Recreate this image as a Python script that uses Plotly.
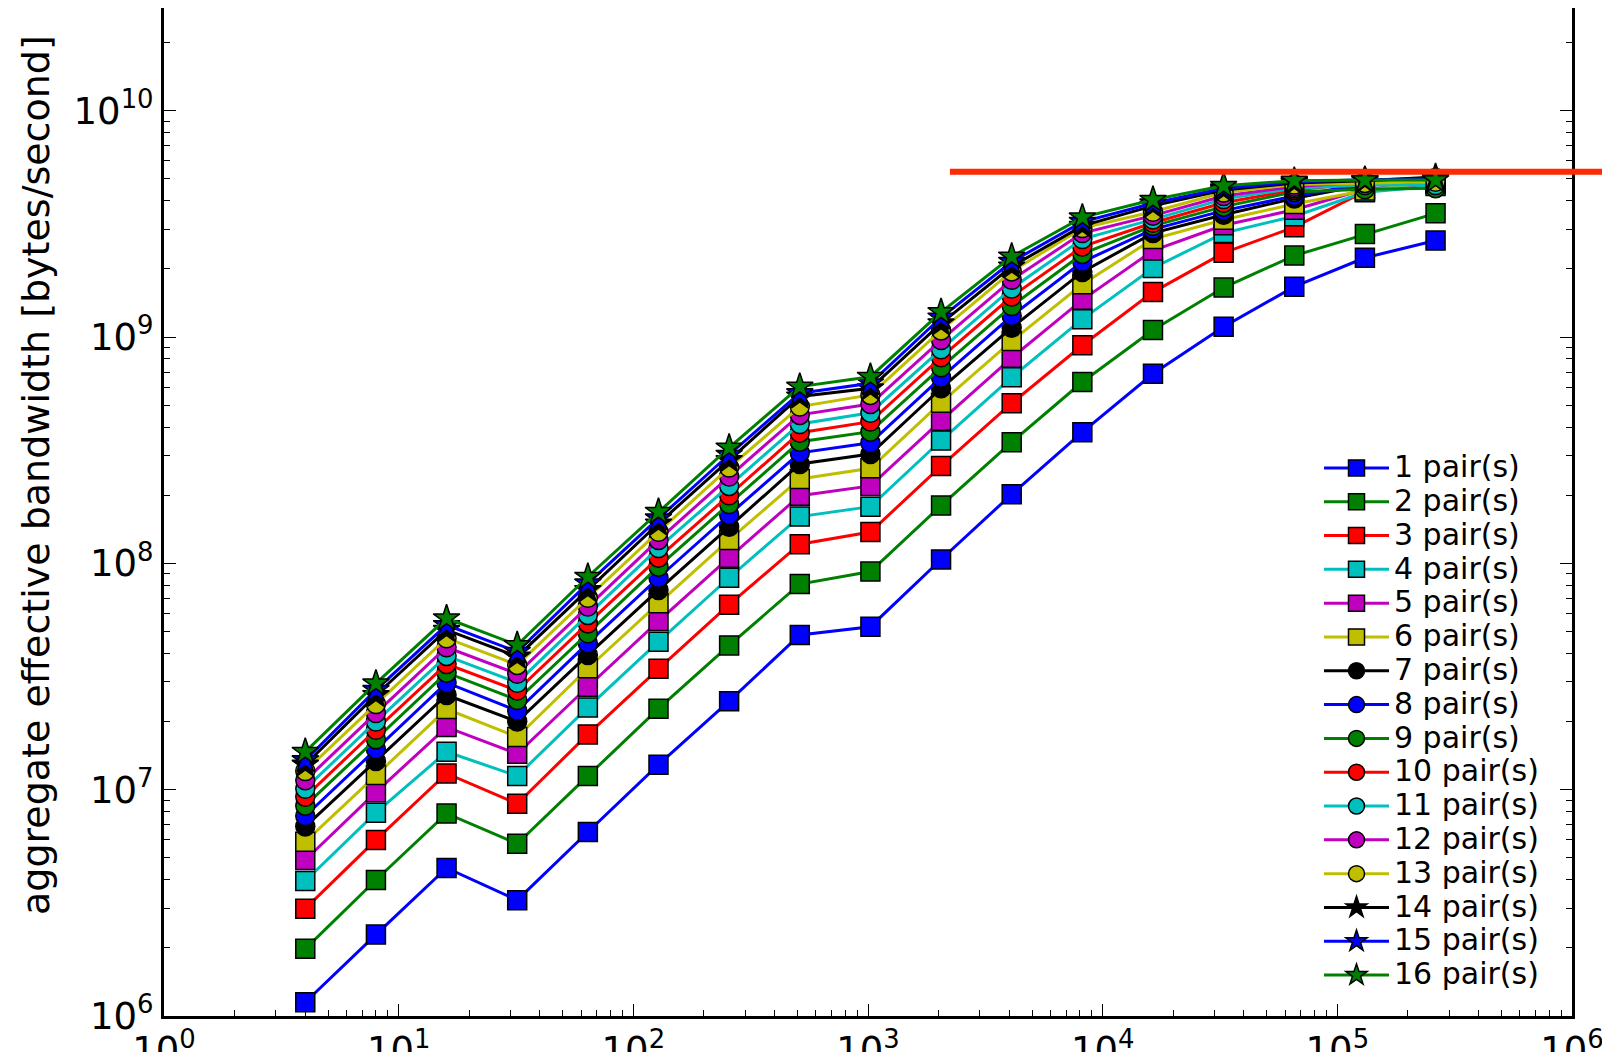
import plotly.graph_objects as go
import math

# ---- data ----
message_size = [4, 8, 16, 32, 64, 128, 256, 512, 1024, 2048, 4096, 8192,
                16384, 32768, 65536, 131072, 262144]

pairs_1 = [1.15e6, 2.29e6, 4.51e6, 3.25e6, 6.50e6, 1.29e7, 2.46e7, 4.83e7, 5.25e7, 1.04e8, 2.02e8, 3.80e8, 6.88e8, 1.11e9, 1.67e9, 2.24e9, 2.67e9]
pairs_2 = [1.98e6, 3.99e6, 7.85e6, 5.77e6, 1.15e7, 2.28e7, 4.34e7, 8.10e7, 9.20e7, 1.80e8, 3.43e8, 6.33e8, 1.075e9, 1.655e9, 2.29e9, 2.85e9, 3.52e9]
pairs_3 = [2.98e6, 6.00e6, 1.18e7, 8.67e6, 1.755e7, 3.42e7, 6.57e7, 1.215e8, 1.375e8, 2.69e8, 5.10e8, 9.20e8, 1.58e9, 2.355e9, 3.06e9, 4.40e9, 4.75e9]
pairs_4 = [3.95e6, 7.91e6, 1.47e7, 1.15e7, 2.31e7, 4.51e7, 8.64e7, 1.61e8, 1.78e8, 3.49e8, 6.64e8, 1.20e9, 2.02e9, 2.88e9, 3.42e9, 4.36e9, 4.65e9]
pairs_5 = [4.89e6, 9.75e6, 1.89e7, 1.44e7, 2.85e7, 5.56e7, 1.06e8, 1.99e8, 2.20e8, 4.27e8, 8.10e8, 1.46e9, 2.41e9, 3.12e9, 3.65e9, 4.50e9, 4.80e9]
pairs_6 = [5.89e6, 1.16e7, 2.27e7, 1.71e7, 3.44e7, 6.66e7, 1.27e8, 2.36e8, 2.63e8, 5.13e8, 9.60e8, 1.71e9, 2.71e9, 3.30e9, 3.87e9, 4.44e9, 4.85e9]
pairs_7 = [6.87e6, 1.34e7, 2.62e7, 2.00e7, 3.94e7, 7.63e7, 1.45e8, 2.75e8, 3.04e8, 5.94e8, 1.10e9, 1.94e9, 2.88e9, 3.47e9, 4.10e9, 4.70e9, 4.90e9]
pairs_8 = [7.65e6, 1.51e7, 2.97e7, 2.23e7, 4.44e7, 8.64e7, 1.64e8, 3.08e8, 3.41e8, 6.62e8, 1.24e9, 2.15e9, 2.99e9, 3.62e9, 4.20e9, 4.75e9, 5.00e9]
pairs_9 = [8.50e6, 1.67e7, 3.29e7, 2.49e7, 4.91e7, 9.67e7, 1.83e8, 3.45e8, 3.82e8, 7.35e8, 1.37e9, 2.33e9, 3.10e9, 3.77e9, 4.38e9, 4.50e9, 4.55e9]
pairs_10 = [9.30e6, 1.84e7, 3.59e7, 2.74e7, 5.43e7, 1.06e8, 2.00e8, 3.78e8, 4.23e8, 8.14e8, 1.51e9, 2.51e9, 3.20e9, 3.92e9, 4.47e9, 4.80e9, 4.95e9]
pairs_11 = [1.01e7, 2.00e7, 3.90e7, 2.97e7, 5.92e7, 1.17e8, 2.20e8, 4.13e8, 4.63e8, 8.83e8, 1.64e9, 2.71e9, 3.31e9, 4.07e9, 4.55e9, 4.70e9, 4.70e9]
pairs_12 = [1.10e7, 2.18e7, 4.26e7, 3.25e7, 6.44e7, 1.27e8, 2.42e8, 4.53e8, 5.06e8, 9.70e8, 1.79e9, 2.88e9, 3.44e9, 4.20e9, 4.62e9, 4.85e9, 5.05e9]
pairs_13 = [1.21e7, 2.39e7, 4.67e7, 3.56e7, 7.05e7, 1.38e8, 2.65e8, 4.93e8, 5.55e8, 1.07e9, 1.95e9, 3.03e9, 3.58e9, 4.35e9, 4.72e9, 4.80e9, 4.85e9]
pairs_14 = [1.29e7, 2.62e7, 5.08e7, 3.87e7, 7.63e7, 1.50e8, 2.86e8, 5.46e8, 5.94e8, 1.15e9, 2.05e9, 3.10e9, 3.80e9, 4.46e9, 4.80e9, 4.90e9, 5.10e9]
pairs_15 = [1.35e7, 2.76e7, 5.34e7, 4.07e7, 8.16e7, 1.58e8, 3.02e8, 5.65e8, 6.25e8, 1.22e9, 2.15e9, 3.23e9, 3.90e9, 4.54e9, 4.85e9, 4.95e9, 5.00e9]
pairs_16 = [1.47e7, 2.95e7, 5.72e7, 4.36e7, 8.73e7, 1.69e8, 3.25e8, 6.04e8, 6.68e8, 1.29e9, 2.27e9, 3.38e9, 4.04e9, 4.66e9, 4.91e9, 4.94e9, 4.94e9]

series_values = [pairs_1, pairs_2, pairs_3, pairs_4, pairs_5, pairs_6, pairs_7, pairs_8,
                 pairs_9, pairs_10, pairs_11, pairs_12, pairs_13, pairs_14, pairs_15, pairs_16]
series_names = [f"{i} pair(s)" for i in range(1, 17)]

peak_bandwidth = 5.38e9      # red reference line level
peak_line_start = 2234       # x where the red line starts

x_tick_vals = [1, 10, 100, 1000, 10000, 100000, 1000000]
x_tick_text = ["10<sup>0</sup>", "10<sup>1</sup>", "10<sup>2</sup>", "10<sup>3</sup>",
               "10<sup>4</sup>", "10<sup>5</sup>", "10<sup>6</sup>"]
y_tick_vals = [1e6, 1e7, 1e8, 1e9, 1e10]
y_tick_text = ["10<sup>6</sup>", "10<sup>7</sup>", "10<sup>8</sup>", "10<sup>9</sup>", "10<sup>10</sup>"]

# ---- styles ----
colors = ["#0000FF", "#008000", "#FF0000", "#00BFBF", "#BF00BF", "#BFBF00",
          "#000000", "#0000FF", "#008000", "#FF0000", "#00BFBF", "#BF00BF", "#BFBF00",
          "#000000", "#0000FF", "#008000"]
symbols = ["square"] * 6 + ["circle"] * 7 + ["star"] * 3
FONT = "DejaVu Sans"
LEGEND_TEXT_PX = 30

fig = go.Figure()
for name, vals, col, sym in zip(series_names, series_values, colors, symbols):
    size = 19 if sym != "star" else 20
    fig.add_trace(go.Scatter(
        x=message_size, y=vals,
        name=f"<span style='font-size:{LEGEND_TEXT_PX}px'>{name}</span>",
        mode="lines+markers",
        line=dict(color=col, width=3),
        marker=dict(symbol=sym, size=size, color=col,
                    line=dict(color="black", width=1.5)),
        cliponaxis=False,
    ))

minor_x = [m * 10 ** k for k in range(0, 6) for m in range(2, 10)]
minor_y = [m * 10 ** k for k in range(6, 11) for m in range(2, 10)]

W, H = 1602, 1052
ML, MR, MT, MB = 164, 30, 8, 36
plot_w = W - ML - MR
plot_h = H - MT - MB

fig.update_layout(
    width=W, height=H,
    margin=dict(l=ML, r=MR, t=MT, b=MB, pad=0, autoexpand=False),
    paper_bgcolor="white", plot_bgcolor="white",
    font=dict(family=FONT, color="black"),
    showlegend=True,
    legend=dict(
        x=(1319 - ML) / plot_w, xanchor="left",
        y=(MT + plot_h - 446) / plot_h, yanchor="top",
        bgcolor="rgba(0,0,0,0)", borderwidth=0,
        font=dict(family=FONT, size=23.7, color="black"),
        itemwidth=65, itemsizing="trace",
        tracegroupgap=0,
    ),
    xaxis=dict(
        type="log", range=[0, 6], autorange=False,
        tickmode="array", tickvals=x_tick_vals, ticktext=x_tick_text,
        ticks="inside", ticklen=12, tickwidth=1.3, tickcolor="black",
        showline=True, linewidth=3, linecolor="black", mirror=False,
        showgrid=False, zeroline=False,
        tickfont=dict(family=FONT, size=37, color="black"),
        ticklabelstandoff=0, ticklabeloverflow="allow",
        minor=dict(tickmode="array", tickvals=minor_x, ticks="inside",
                   ticklen=6, tickwidth=1.3, tickcolor="black", showgrid=False),
        automargin=False,
    ),
    yaxis=dict(
        type="log", range=[6, 10.454], autorange=False,
        tickmode="array", tickvals=y_tick_vals, ticktext=y_tick_text,
        ticks="inside", ticklen=12, tickwidth=1.3, tickcolor="black",
        showline=True, linewidth=3, linecolor="black", mirror="ticks",
        showgrid=False, zeroline=False,
        tickfont=dict(family=FONT, size=37, color="black"),
        ticklabeloverflow="allow",
        minor=dict(tickmode="array", tickvals=minor_y, ticks="inside",
                   ticklen=6, tickwidth=1.3, tickcolor="black", showgrid=False),
        automargin=False,
    ),
    annotations=[dict(
        text="aggregate effective bandwidth [bytes/second]",
        textangle=-90, showarrow=False,
        xref="paper", yref="paper",
        x=(36 - ML) / plot_w, y=(MT + plot_h - 475) / plot_h,
        xanchor="center", yanchor="middle",
        font=dict(family=FONT, size=38, color="black"),
    )],
    shapes=[dict(
        type="line", xref="paper", yref="y",
        x0=math.log10(peak_line_start) / 6, x1=1.05,
        y0=peak_bandwidth, y1=peak_bandwidth,
        line=dict(color="#FF2A00", width=6), layer="above",
    )],
)

fig.write_html("out.html")
